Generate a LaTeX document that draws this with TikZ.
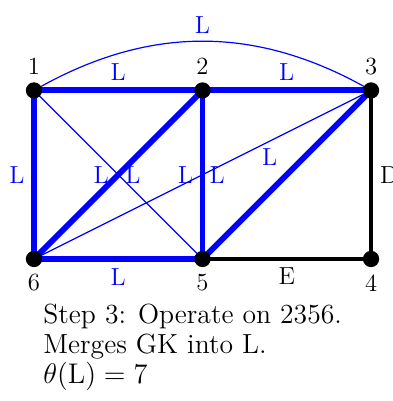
\documentclass[tikz,border=0pt]{standalone}
\usepackage{tikz}
\usetikzlibrary{positioning,backgrounds}
\definecolor{edgeblue}{HTML}{0000FF}

\begin{document}
\begin{tikzpicture}[x=1cm,y=1cm,
    vertex/.style={circle, fill=black, inner sep=0pt, minimum size=0.29cm},
    heavy/.style={edgeblue, line width=3pt},
    light/.style={edgeblue, line width=0.6pt},
    fixed/.style={black, line width=2.4pt},
    tag/.style={font=\fontsize{12.5}{15}\selectfont, text=edgeblue},
    blacktag/.style={font=\fontsize{12.5}{15}\selectfont, text=black},
    every label/.style={font=\fontsize{12.5}{15}\selectfont}]
  \useasboundingbox (-0.605,-2.528) rectangle (6.374,4.61);

  % Vertices
  \node[vertex, label=above:1] (v1) at (0,3) {};
  \node[vertex, label=above:2] (v2) at (3,3) {};
  \node[vertex, label=above:3] (v3) at (6,3) {};
  \node[vertex, label=below:6] (v6) at (0,0) {};
  \node[vertex, label=below:5] (v5) at (3,0) {};
  \node[vertex, label=below:4] (v4) at (6,0) {};

  % Edges, behind the vertices
  \begin{scope}[on background layer]
    \draw[light] (v1.center) to[bend left=30] node[tag, above] {L} (v3.center);
    \draw[light] (v1.center) -- node[tag, right] {L} (v5.center);
    \draw[light] (v6.center) -- node[tag, right] {L} (v3.center);

    \draw[heavy] (v1.center) -- node[tag, above] {L} (v2.center);
    \draw[heavy] (v2.center) -- node[tag, above] {L} (v3.center);
    \draw[heavy] (v1.center) -- node[tag, left] {L} (v6.center);
    \draw[heavy] (v6.center) -- node[tag, below] {L} (v5.center);
    \draw[heavy] (v6.center) -- node[tag, left] {L} (v2.center);
    \draw[heavy] (v2.center) -- node[tag, left] {L} (v5.center);
    \draw[heavy] (v5.center) -- node[tag, above left] {L} (v3.center);

    \draw[fixed] (v3.center) -- node[blacktag, right] {D} (v4.center);
    \draw[fixed] (v5.center) -- node[blacktag, below] {E} (v4.center);
  \end{scope}

  % Caption
  \node[anchor=north west, align=left, inner sep=0pt, font=\fontsize{14}{15.2}\selectfont] (caption) at (0.16,-0.79)
    {Step 3: Operate on 2356.\\ Merges GK into L.\\ $\theta(\mathrm{L})=7$};
\end{tikzpicture}
\end{document}
